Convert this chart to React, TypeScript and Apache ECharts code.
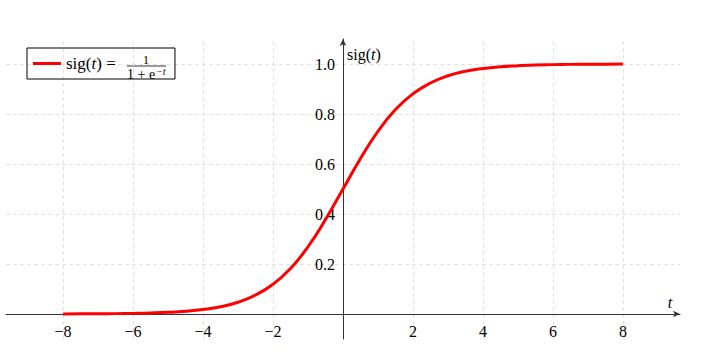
import React, { useEffect, useRef } from "react";
import * as echarts from "echarts";

const tValues = [
  -8, -7.5, -7, -6.5, -6, -5.5, -5, -4.5, -4, -3.5, -3, -2.5, -2, -1.5, -1, -0.5,
  0, 0.5, 1, 1.5, 2, 2.5, 3, 3.5, 4, 4.5, 5, 5.5, 6, 6.5, 7, 7.5, 8,
];
const sigValues = [
  0.0003, 0.0006, 0.0009, 0.0015, 0.0025, 0.0041, 0.0067, 0.011, 0.018, 0.029,
  0.047, 0.076, 0.119, 0.182, 0.269, 0.378, 0.5, 0.622, 0.731, 0.818, 0.881,
  0.924, 0.953, 0.971, 0.982, 0.989, 0.993, 0.996, 0.9975, 0.9985, 0.9991,
  0.9994, 0.9997,
];
const xTickValues = [-8, -6, -4, -2, 2, 4, 6, 8];
const yTickValues = [0.2, 0.4, 0.6, 0.8, 1.0];
const xGridValues = [-8, -6, -4, -2, 2, 4, 6, 8];
const yGridValues = [0.2, 0.4, 0.6, 0.8, 1.0];
const seriesName = "sig";

const FONT = "Liberation Serif";

const GRID_LEFT = 6;
const GRID_RIGHT = 22;
const GRID_TOP = 39;
const GRID_BOTTOM = 14;
const X_MIN = -9.63;
const X_MAX = 9.63;
const Y_MIN = -0.1;
const Y_MAX = 1.1;

export default function App() {
  const ref = useRef<HTMLDivElement>(null);
  useEffect(() => {
    if (!ref.current) return;
    const chart = echarts.init(ref.current, null, { renderer: "svg" });
    const W = 702;
    const H = 353;
    const gw = W - GRID_LEFT - GRID_RIGHT;
    const gh = H - GRID_TOP - GRID_BOTTOM;
    // axes crossing at zero: shift each axis inward to the zero of the other
    const xAxisOffset = -Math.round((gh * (0 - Y_MIN)) / (Y_MAX - Y_MIN));
    const yAxisOffset = -Math.round((gw * (0 - X_MIN)) / (X_MAX - X_MIN));
    const lineData = tValues.map((t, i) => [t, sigValues[i]]);
    const gridStyle = { color: "#e2e2e2", width: 1, type: [4, 3] as any };
    chart.setOption({
      animation: false,
      backgroundColor: "#ffffff",
      textStyle: { fontFamily: FONT },
      grid: {
        left: GRID_LEFT,
        right: GRID_RIGHT,
        top: GRID_TOP,
        bottom: GRID_BOTTOM,
        containLabel: false,
        outerBoundsMode: "none",
      },
      xAxis: {
        type: "value",
        min: X_MIN,
        max: X_MAX,
        position: "bottom",
        offset: xAxisOffset,
        name: "{i|t}",
        nameLocation: "end",
        nameGap: -10,
        nameTextStyle: {
          align: "center",
          verticalAlign: "bottom",
          padding: [0, 0, 4, 0],
          rich: { i: { fontFamily: FONT, fontStyle: "italic", fontSize: 16, color: "#000" } },
        },
        axisLine: {
          onZero: false,
          symbol: ["none", "arrow"],
          symbolSize: [5, 7],
          lineStyle: { color: "#333", width: 1 },
        },
        axisTick: { show: false },
        splitLine: { show: false },
        axisLabel: {
          customValues: xTickValues,
          margin: 9,
          fontFamily: FONT,
          fontSize: 16,
          color: "#000",
          formatter: (v: number) => (v < 0 ? "\u2212" + Math.abs(v) : String(v)),
        },
      },
      yAxis: {
        type: "value",
        min: Y_MIN,
        max: Y_MAX,
        position: "left",
        offset: yAxisOffset,
        name: "{r|sig(}{i|t}{r|)}",
        nameLocation: "end",
        nameGap: -15,
        nameTextStyle: {
          align: "left",
          verticalAlign: "middle",
          padding: [0, 0, 0, 4],
          rich: {
            r: { fontFamily: FONT, fontSize: 16, color: "#000" },
            i: { fontFamily: FONT, fontStyle: "italic", fontSize: 16, color: "#000" },
          },
        },
        axisLine: {
          onZero: false,
          symbol: ["none", "arrow"],
          symbolSize: [5, 7],
          lineStyle: { color: "#333", width: 1 },
        },
        axisTick: { show: false },
        splitLine: { show: false },
        axisLabel: {
          customValues: yTickValues,
          margin: 8,
          fontFamily: FONT,
          fontSize: 16,
          color: "#000",
          formatter: (v: number) => v.toFixed(1),
        },
      },
      legend: {
        left: 27,
        top: 48,
        orient: "horizontal",
        borderColor: "#000",
        borderWidth: 1,
        borderRadius: 0,
        padding: [7, 9, 7, 6],
        itemWidth: 28,
        itemHeight: 14,
        itemGap: 5,
        data: [{ name: seriesName, icon: "path://M0,6 L28,6 L28,9 L0,9 Z" }],
        formatter: () => "{r|sig(}{i|t}{r|) = }{f|}",
        textStyle: {
          lineHeight: 16,
          rich: {
            r: { fontFamily: FONT, fontSize: 17, color: "#000" },
            i: { fontFamily: FONT, fontStyle: "italic", fontSize: 17, color: "#000" },
            f: { width: 46 },
          },
        },
      },
      graphic: [
        {
          type: "group",
          silent: true,
          children: [
            {
              type: "text",
              x: 146,
              y: 54,
              style: { text: "1", fontFamily: FONT, fontSize: 12, fill: "#000", align: "center", verticalAlign: "top" },
            },
            {
              type: "line",
              shape: { x1: 127, y1: 66, x2: 166, y2: 66 },
              style: { stroke: "#000", lineWidth: 0.8 },
            },
            {
              type: "text",
              x: 127,
              y: 67,
              style: { text: "1 + e", fontFamily: FONT, fontSize: 14, fill: "#000", align: "left", verticalAlign: "top" },
            },
            {
              type: "text",
              x: 156,
              y: 66,
              style: { text: "\u2212t", fontFamily: FONT, fontStyle: "italic", fontSize: 10, fill: "#000", align: "left", verticalAlign: "top" },
            },
          ],
        },
      ],
      series: [
        {
          type: "line",
          name: "grid",
          data: [],
          z: 0,
          silent: true,
          markLine: {
            z: 0,
            silent: true,
            animation: false,
            symbol: ["none", "none"],
            label: { show: false },
            lineStyle: gridStyle,
            emphasis: { disabled: true },
            data: [
              ...xGridValues.map((v) => ({ xAxis: v })),
              ...yGridValues.map((v) => ({ yAxis: v })),
            ],
          },
        },
        {
          type: "line",
          name: seriesName,
          data: lineData,
          z: 3,
          smooth: true,
          showSymbol: false,
          symbol: "none",
          color: "#ff0000",
          lineStyle: { color: "#ff0000", width: 3 },
        },
      ],
    });
    return () => chart.dispose();
  }, []);
  return (
    <div
      ref={ref}
      style={{ position: "fixed", left: 0, top: 0, width: 702, height: 353, background: "#fff" }}
    />
  );
}
